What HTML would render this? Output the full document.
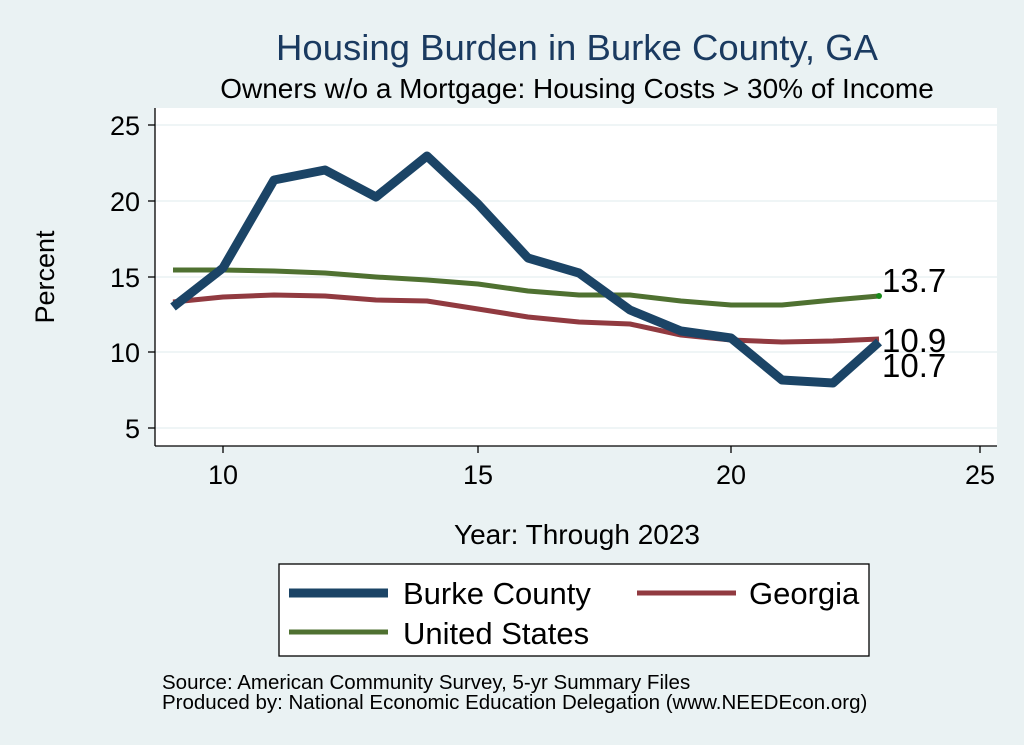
<!DOCTYPE html>
<html><head><meta charset="utf-8"><style>
html,body{margin:0;padding:0;background:#eaf2f3;}
svg{display:block;font-family:"Liberation Sans",Arial,sans-serif;}
</style></head><body>
<svg width="1024" height="745" viewBox="0 0 1024 745" xmlns="http://www.w3.org/2000/svg">
<rect x="0" y="0" width="1024" height="745" fill="#eaf2f3"/>
<text x="577" y="60" font-size="36.5" fill="#1a3a60" text-anchor="middle">Housing Burden in Burke County, GA</text>
<text x="577" y="98" font-size="28" fill="#000" text-anchor="middle">Owners w/o a Mortgage: Housing Costs &gt; 30% of Income</text>
<rect x="155" y="108" width="842" height="338" fill="#fff"/>
<g stroke="#eaf2f3" stroke-width="1.5">
<line x1="155" y1="125" x2="997" y2="125"/><line x1="155" y1="201" x2="997" y2="201"/><line x1="155" y1="277" x2="997" y2="277"/><line x1="155" y1="352" x2="997" y2="352"/><line x1="155" y1="428" x2="997" y2="428"/>
</g>
<g stroke="#000" stroke-width="1.3">
<line x1="155" y1="108" x2="155" y2="446"/><line x1="155" y1="446" x2="997" y2="446"/>
<line x1="148" y1="125" x2="155" y2="125"/><line x1="148" y1="201" x2="155" y2="201"/><line x1="148" y1="277" x2="155" y2="277"/><line x1="148" y1="352" x2="155" y2="352"/><line x1="148" y1="428" x2="155" y2="428"/>
<line x1="223" y1="446" x2="223" y2="453"/><line x1="478" y1="446" x2="478" y2="453"/><line x1="731" y1="446" x2="731" y2="453"/><line x1="980" y1="446" x2="980" y2="453"/>
</g>
<g font-size="27" text-anchor="end">
<text x="140" y="135">25</text><text x="140" y="211">20</text><text x="140" y="287">15</text><text x="140" y="362">10</text><text x="140" y="438">5</text>
</g>
<g font-size="27" text-anchor="middle">
<text x="223" y="484">10</text><text x="478" y="484">15</text><text x="731" y="484">20</text><text x="980" y="484">25</text>
</g>
<text transform="translate(54,277) rotate(-90)" font-size="27" text-anchor="middle">Percent</text>
<text x="577" y="544" font-size="28" text-anchor="middle">Year: Through 2023</text>
<g fill="none" stroke-linejoin="round">
<polyline stroke="#4f7131" stroke-width="5" points="173,270 223,270 274,271 325,273 376,277 427,280 478,284 528,291 579,295 630,295 681,301 731,305 782,305 833,300 879,296"/>
<polyline stroke="#913a40" stroke-width="5" points="173,302 223,297 274,295 325,296 376,300 427,301 478,309 528,317 579,322 630,324 681,335 731,340 782,342 833,341 879,339"/>
<polyline stroke="#1b4466" stroke-width="9" points="173,307 223,268 274,180 325,170 376,197 427,156 478,204 528,258 579,273 630,310 681,331 731,338 782,380 833,383 879,342"/>
</g>
<circle cx="879" cy="296" r="3" fill="#1a8a1a"/>
<g font-size="33">
<text x="882" y="292">13.7</text><text x="882" y="352">10.9</text><text x="882" y="377">10.7</text>
</g>
<rect x="279" y="564" width="590" height="92" fill="#fff" stroke="#000" stroke-width="1.3"/>
<line x1="289" y1="593" x2="388" y2="593" stroke="#1b4466" stroke-width="9"/>
<text x="403" y="604" font-size="31">Burke County</text>
<line x1="637" y1="593" x2="736" y2="593" stroke="#913a40" stroke-width="5"/>
<text x="749" y="604" font-size="31">Georgia</text>
<line x1="289" y1="632" x2="388" y2="632" stroke="#4f7131" stroke-width="5"/>
<text x="403" y="644" font-size="31">United States</text>
<text x="162" y="689" font-size="20.5">Source: American Community Survey, 5-yr Summary Files</text>
<text x="162" y="709" font-size="20.5">Produced by: National Economic Education Delegation (www.NEEDEcon.org)</text>
</svg>
</body></html>
